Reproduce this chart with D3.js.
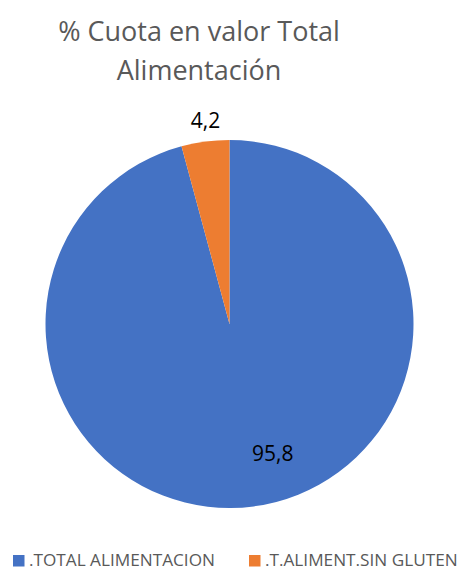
<!DOCTYPE html>
<html>
<head>
<meta charset="utf-8">
<script src="https://cdn.jsdelivr.net/npm/d3@7"></script>
<style>
html,body{margin:0;padding:0;background:#fff;}
svg{display:block;}
</style>
</head>
<body>
<svg id="chart" width="465" height="571"></svg>
<script>
const categories = [".TOTAL ALIMENTACION", ".T.ALIMENT.SIN GLUTEN"];
const values = [95.8, 4.2];
const labels = ["95,8", "4,2"];
const colors = ["#4472C4", "#ED7D31"];
const titleLines = ["% Cuota en valor Total", "Alimentación"];

const svg = d3.select("#chart");
const cx = 229.5, cy = 324, R = 184;
const font = "'Open Sans', Lato, sans-serif";

// title
svg.append("text")
  .attr("x", 199).attr("y", 41)
  .attr("text-anchor", "middle")
  .attr("font-family", font).attr("font-size", 27)
  .attr("fill", "#595959")
  .selectAll("tspan").data(titleLines).join("tspan")
  .attr("x", 199).attr("dy", (d, i) => i === 0 ? 0 : 38.5)
  .text(d => d);

const pie = d3.pie().sort(null).value(d => d)(values);
const arc = d3.arc().innerRadius(0).outerRadius(R);
const g = svg.append("g").attr("transform", `translate(${cx},${cy})`);
g.selectAll("path").data(pie).join("path")
  .attr("d", arc)
  .attr("fill", (d, i) => colors[i]);

// data labels
const inArc = d3.arc().innerRadius(131).outerRadius(131);
const outArc = d3.arc().innerRadius(205).outerRadius(205);
const labelOffsets = [[26, 0], [3, 0]];
g.selectAll("text.lbl").data(pie).join("text")
  .attr("class", "lbl")
  .attr("transform", (d, i) => {
    const c = (i === 0 ? inArc : outArc).centroid(d);
    return `translate(${c[0] + labelOffsets[i][0]},${c[1] + labelOffsets[i][1]})`;
  })
  .attr("text-anchor", "middle")
  .attr("dy", "0.35em")
  .attr("font-family", font).attr("font-size", 21)
  .attr("fill", "#000")
  .text((d, i) => labels[i]);

// legend
const legendX = [13, 249];
const lg = svg.append("g");
const items = lg.selectAll("g").data(categories).join("g")
  .attr("transform", (d, i) => `translate(${legendX[i]},555)`);
items.append("rect").attr("width", 11.5).attr("height", 11.5)
  .attr("fill", (d, i) => colors[i]);
items.append("text").attr("x", 16).attr("y", 11.3)
  .attr("font-family", font).attr("font-size", 17.2)
  .attr("fill", "#595959")
  .text(d => d);
</script>
</body>
</html>
